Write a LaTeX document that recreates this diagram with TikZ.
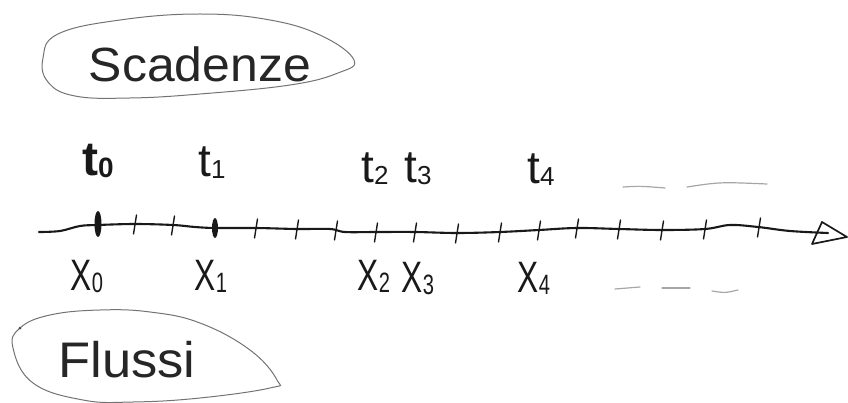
\documentclass[tikz,border=0pt]{standalone}
\usepackage{fontspec}
\setmainfont{Liberation Sans}
\newcommand\sublab[2]{{\fontsize{#1}{#1}\selectfont\raisebox{-2pt}{#2}}}
\begin{document}
\begin{tikzpicture}[x=1pt,y=-1pt,
  hand/.style={line width=2.1pt,line cap=round,line join=round,black!90},
  tickmark/.style={line width=1.4pt,line cap=round,black!90},
  bubble/.style={line width=1pt,black!55},
  dashmark/.style={line width=1.2pt,line cap=round,black!35},
  word/.style={anchor=base,inner sep=0pt,text=black!85},
  tlab/.style={anchor=base,inner sep=0pt,text=black!90,font=\fontsize{46}{46}\selectfont},
  xlab/.style={anchor=base,inner sep=0pt,text=black!90,font=\fontsize{44}{44}\selectfont}]
\useasboundingbox (0,0) rectangle (848,403);

% bubbles
\draw[bubble] plot[smooth cycle,tension=0.7] coordinates {(43,58) (58,34) (120,20) (200,14) (270,20) (322,36) (354,60) (338,73) (290,85) (200,94) (130,98) (75,96) (48,82)};
\node[word,font=\fontsize{48}{48}\selectfont] (scad) at (200,82) {\scalebox{1.04}[1]{Scadenze}};

\draw[bubble] plot[smooth cycle,tension=0.7] coordinates {(13,348) (20,328) (50,315) (100,310) (150,312) (200,323) (250,350) (277,380) (270,388) (200,398) (133,402) (83,400) (33,383)};
\fill[black!70] (20,328) circle (1.5);
\node[word,font=\fontsize{50}{50}\selectfont] (fluss) at (127,377) {\scalebox{1.05}[1]{Flussi}};

% axis
\coordinate (axstart) at (39,232);
\coordinate (axend) at (828,233);
\draw[hand] plot[smooth,tension=0.6] coordinates {(39,232) (60,231) (80,226) (98,225) (135,224) (173,225) (195,227) (215,228) (256,228) (297,229) (330,229) (345,232) (376,232) (415,232) (457,233) (500,232) (539,230) (577,228) (619,229) (662,230) (705,229) (730,225) (758,227) (790,231) (828,233)};
\draw[hand,line width=1.7pt] (822,222) -- (847,237) -- (812,244) -- cycle;

% ticks
\foreach \x/\y in {135/224,173/225,256/228,297/229,336/230,376/232,415/232,457/233,500/232,539/230,577/228,619/229,662/230,705/229,759/227}
  \draw[tickmark] (\x-1.5,\y+10) -- (\x+1.5,\y-9);
\fill[black!90] (98,224) ellipse (3.5 and 13);
\fill[black!90] (215,228) ellipse (3 and 10);

% time labels
\node[tlab,font=\fontsize{48}{48}\selectfont\bfseries] (t0) at (98,176) {t\sublab{28}{0}};
\node[tlab] (t1) at (212,177) {t\sublab{26}{1}};
\node[tlab] (t2) at (375,183) {t\sublab{26}{2}};
\node[tlab] (t3) at (418,183) {t\sublab{26}{3}};
\node[tlab] (t4) at (541,184) {t\sublab{26}{4}};

% flow labels
\node[xlab] (x0) at (87,290) {\scalebox{0.72}[1]{X\sublab{28}{0}}};
\node[xlab] (x1) at (211,290) {\scalebox{0.72}[1]{X\sublab{28}{1}}};
\node[xlab] (x2) at (374,290) {\scalebox{0.72}[1]{X\sublab{28}{2}}};
\node[xlab] (x3) at (418,292) {\scalebox{0.72}[1]{X\sublab{28}{3}}};
\node[xlab] (x4) at (534,292) {\scalebox{0.72}[1]{X\sublab{28}{4}}};

% continuation dashes
\draw[dashmark] (623,187) .. controls (640,186) .. (665,188);
\draw[dashmark] (687,187) .. controls (720,182) .. (767,184);
\draw[dashmark] (615,289) -- (640,287);
\draw[dashmark] (662,288) -- (690,288);
\draw[dashmark] (712,291) .. controls (725,293) .. (738,290);
\end{tikzpicture}
\end{document}
